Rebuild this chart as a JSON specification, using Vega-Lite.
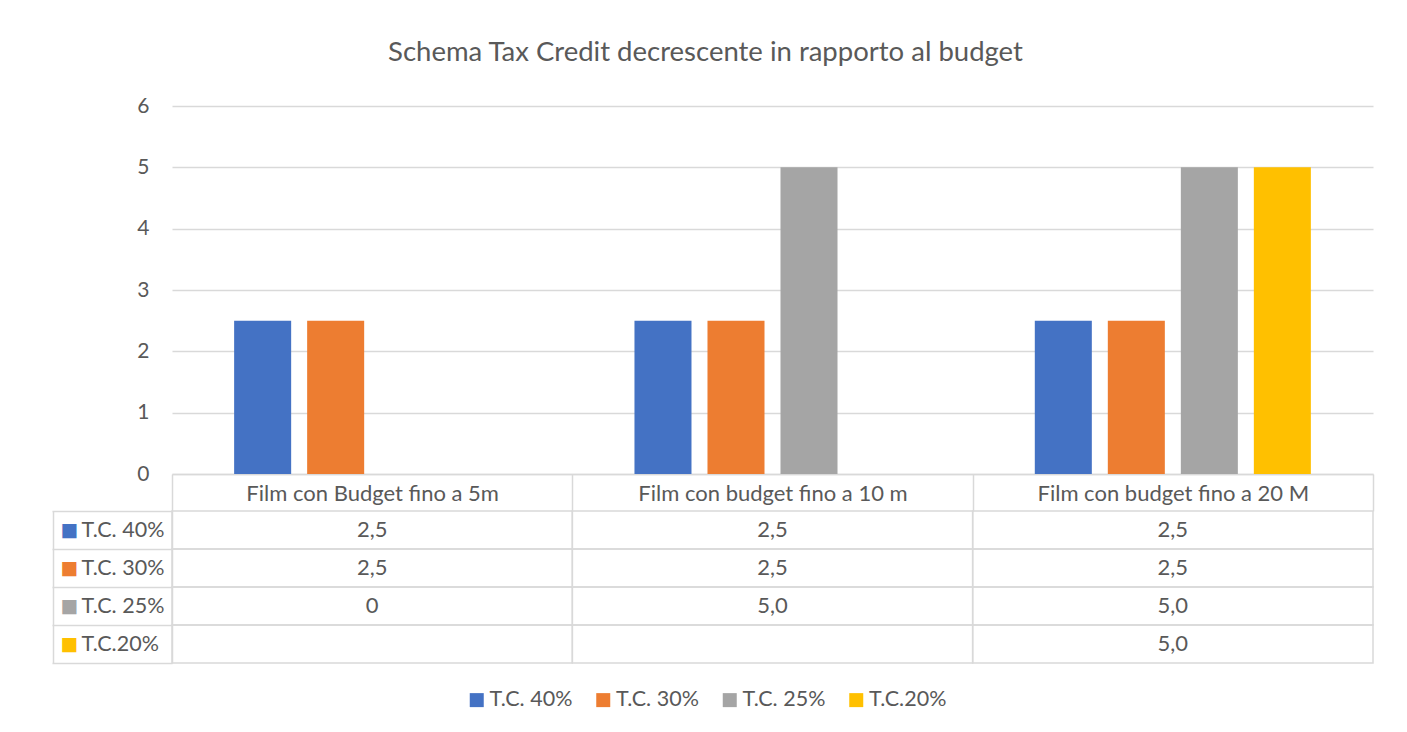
{
  "$schema": "https://vega.github.io/schema/vega-lite/v6.json",
  "width": 1201,
  "height": 368,
  "autosize": "none",
  "padding": {"left": 172, "top": 106, "right": 34, "bottom": 258},
  "background": "white",
  "title": {
    "text": "Schema Tax Credit decrescente in rapporto al budget",
    "anchor": "middle",
    "frame": "group",
    "dx": -67,
    "offset": 7,
    "baseline": "alphabetic",
    "font": "Lato",
    "fontSize": 27.5,
    "fontWeight": "normal",
    "color": "#595959"
  },
  "data": {
    "values": [
      {"category": "Film con Budget fino a 5m", "series": "T.C. 40%", "value": 2.5, "label": "2,5"},
      {"category": "Film con Budget fino a 5m", "series": "T.C. 30%", "value": 2.5, "label": "2,5"},
      {"category": "Film con Budget fino a 5m", "series": "T.C. 25%", "value": 0, "label": "0"},
      {"category": "Film con Budget fino a 5m", "series": "T.C.20%", "value": null, "label": ""},
      {"category": "Film con budget fino a 10 m", "series": "T.C. 40%", "value": 2.5, "label": "2,5"},
      {"category": "Film con budget fino a 10 m", "series": "T.C. 30%", "value": 2.5, "label": "2,5"},
      {"category": "Film con budget fino a 10 m", "series": "T.C. 25%", "value": 5, "label": "5,0"},
      {"category": "Film con budget fino a 10 m", "series": "T.C.20%", "value": null, "label": ""},
      {"category": "Film con budget fino a 20 M", "series": "T.C. 40%", "value": 2.5, "label": "2,5"},
      {"category": "Film con budget fino a 20 M", "series": "T.C. 30%", "value": 2.5, "label": "2,5"},
      {"category": "Film con budget fino a 20 M", "series": "T.C. 25%", "value": 5, "label": "5,0"},
      {"category": "Film con budget fino a 20 M", "series": "T.C.20%", "value": 5, "label": "5,0"}
    ]
  },
  "layer": [
    {
      "transform": [{"filter": "datum.value != null"}],
      "mark": {"type": "bar"},
      "encoding": {
        "x": {
          "field": "category", "type": "nominal",
          "sort": ["Film con Budget fino a 5m", "Film con budget fino a 10 m", "Film con budget fino a 20 M"],
          "scale": {"paddingInner": 0, "paddingOuter": 0},
          "axis": {
            "title": null, "labelAngle": 0, "orient": "bottom", "labelLimit": 0,
            "tickBand": "extent", "tickSize": 37, "tickColor": "#d9d9d9", "tickWidth": 1.5,
            "domainColor": "#d9d9d9", "domainWidth": 1.5,
            "labelBaseline": "middle", "labelPadding": -18,
            "labelFont": "Lato", "labelFontSize": 22, "labelColor": "#595959"
          }
        },
        "xOffset": {
          "field": "series", "type": "nominal",
          "sort": ["T.C. 40%", "T.C. 30%", "T.C. 25%", "T.C.20%"],
          "scale": {"domain": ["T.C. 40%", "T.C. 30%", "T.C. 25%", "T.C.20%"], "paddingInner": 0.219, "paddingOuter": 0.851}
        },
        "y": {
          "field": "value", "type": "quantitative",
          "scale": {"domain": [0, 6], "nice": false, "zero": true},
          "axis": {
            "title": null, "orient": "left", "values": [0, 1, 2, 3, 4, 5, 6],
            "grid": true, "gridColor": "#d9d9d9", "gridWidth": 1.5,
            "domain": false, "ticks": false, "tickSize": 0, "labelPadding": 23,
            "labelFont": "Lato", "labelFontSize": 21, "labelColor": "#595959"
          }
        },
        "color": {
          "field": "series", "type": "nominal",
          "scale": {"domain": ["T.C. 40%", "T.C. 30%", "T.C. 25%", "T.C.20%"], "range": ["#4472C4", "#ED7D31", "#A5A5A5", "#FFC000"]},
          "legend": {
            "title": null, "orient": "none", "legendX": 294, "legendY": 583,
            "direction": "horizontal", "columns": 4,
            "symbolType": "square", "symbolSize": 196, "symbolStrokeWidth": 0,
            "labelFont": "Lato", "labelFontSize": 21.5, "labelColor": "#595959",
            "labelOffset": 2, "columnPadding": 19.5
          }
        }
      }
    },
    {
      "layer": [
        {
          "mark": {"type": "rect", "fill": "white", "fillOpacity": 0, "stroke": "#d9d9d9", "strokeWidth": 1.5},
          "encoding": {
            "x": {"field": "category", "type": "nominal", "sort": ["Film con Budget fino a 5m", "Film con budget fino a 10 m", "Film con budget fino a 20 M"]},
            "y": {
              "field": "series", "type": "nominal",
              "sort": ["T.C. 40%", "T.C. 30%", "T.C. 25%", "T.C.20%"],
              "scale": {"range": [405, 557], "paddingInner": 0, "paddingOuter": 0},
              "axis": {
                "title": null, "orient": "left",
                "tickBand": "extent", "tickSize": 120, "tickColor": "#d9d9d9", "tickWidth": 1.5,
                "domainColor": "#d9d9d9", "domainWidth": 1.5,
                "labelAlign": "left", "labelBaseline": "middle", "labelPadding": -29,
                "labelFont": "Lato", "labelFontSize": 21.5, "labelColor": "#595959"
              }
            }
          }
        },
        {
          "mark": {"type": "text", "font": "Lato", "fontSize": 22, "color": "#595959"},
          "encoding": {
            "x": {"field": "category", "type": "nominal", "bandPosition": 0.5, "sort": ["Film con Budget fino a 5m", "Film con budget fino a 10 m", "Film con budget fino a 20 M"]},
            "y": {"field": "series", "type": "nominal", "bandPosition": 0.5, "sort": ["T.C. 40%", "T.C. 30%", "T.C. 25%", "T.C.20%"]},
            "text": {"field": "label"}
          }
        }
      ]
    },
    {
      "mark": {"type": "tick", "opacity": 0},
      "encoding": {
        "y": {
          "field": "series", "type": "nominal",
          "sort": ["T.C. 40%", "T.C. 30%", "T.C. 25%", "T.C.20%"],
          "scale": {"range": [405, 557], "paddingInner": 0, "paddingOuter": 0},
          "axis": {
            "title": null, "orient": "left", "offset": 119,
            "domainColor": "#d9d9d9", "domainWidth": 1.5,
            "ticks": false, "tickSize": 0,
            "labelExpr": "'■'", "labelAlign": "left", "labelBaseline": "middle", "labelPadding": -7,
            "labelFont": "DejaVu Sans", "labelFontSize": 18.5,
            "labelColor": {
              "condition": [
                {"test": "datum.value == 'T.C. 40%'", "value": "#4472C4"},
                {"test": "datum.value == 'T.C. 30%'", "value": "#ED7D31"},
                {"test": "datum.value == 'T.C. 25%'", "value": "#A5A5A5"}
              ],
              "value": "#FFC000"
            }
          }
        }
      }
    }
  ],
  "resolve": {"scale": {"y": "independent"}, "axis": {"y": "independent"}},
  "config": {"view": {"stroke": null}, "font": "Lato"}
}
